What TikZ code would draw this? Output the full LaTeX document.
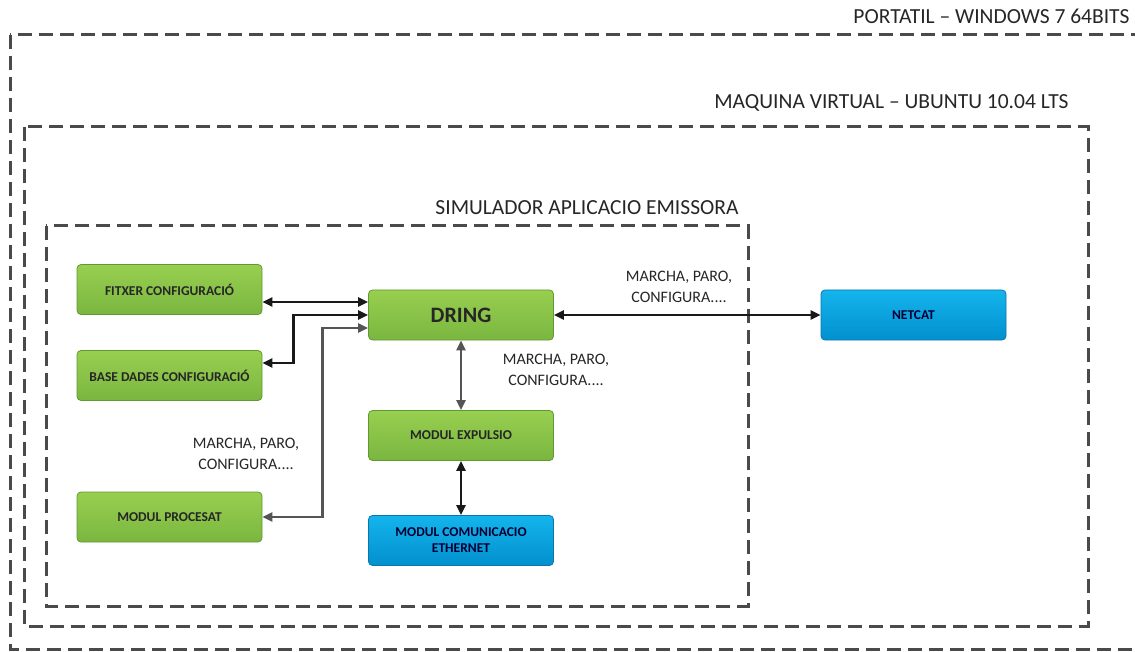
\documentclass[tikz,border=0pt]{standalone}
\usepackage{fontspec}
\setmainfont{Carlito}
\usepackage{xcolor}
\usetikzlibrary{arrows.meta,positioning}
\definecolor{GTop}{HTML}{98CF50}
\definecolor{GBot}{HTML}{7AB640}
\definecolor{GLine}{HTML}{5F9A30}
\definecolor{BTop}{HTML}{14B4EC}
\definecolor{BBot}{HTML}{0290CE}
\definecolor{BLine}{HTML}{0B76AE}
\definecolor{DLine}{HTML}{4A4A4A}
\definecolor{GArrow}{HTML}{555555}

\begin{document}
\begin{tikzpicture}[
  x=1pt,y=-1pt,
  every node/.style={font=\fontsize{16}{21}\selectfont,text=black!85},
  modbox/.style={draw=GLine,line width=0.8pt,rounded corners=4pt,top color=GTop,
    bottom color=GBot,minimum width=185pt,minimum height=50pt,align=center,
    font=\bfseries\fontsize{13.5}{16}\selectfont},
  netbox/.style={modbox,draw=BLine,top color=BTop,bottom color=BBot,text=black!80!blue},
  frame/.style={draw=DLine,line width=3pt,dash pattern=on 14pt off 7pt},
  title/.style={font=\fontsize{21.5}{24}\selectfont},
  blk/.style={{Triangle[length=10pt,width=9pt]}-{Triangle[length=10pt,width=9pt]},line width=2.8pt,color=black!90},
  gry/.style={blk,color=GArrow}
]
  \useasboundingbox (0,0) rectangle (1135,652);

  % containers
  \draw[frame] (10,35) rectangle (1150,649);
  \draw[frame] (24,127) rectangle (1088,626);
  \draw[frame] (46,226) rectangle (748,606);
  \node[title,anchor=east] (portatil) at (1133,16) {PORTATIL -- WINDOWS 7 64BITS};
  \node[title,anchor=east] (maquina) at (1072,103) {MAQUINA VIRTUAL -- UBUNTU 10.04 LTS};
  \node[title] (simulador) at (587,208) {SIMULADOR APLICACIO EMISSORA};

  % modules
  \node[modbox] (fitxer) at (169.5,289.5) {FITXER CONFIGURACIÓ};
  \node[modbox] (base) at (169.5,375.5) {BASE DADES CONFIGURACIÓ};
  \node[modbox] (procesat) at (169.5,517) {MODUL PROCESAT};
  \node[modbox,font=\bfseries\fontsize{22}{24}\selectfont] (dring) at (461,315) {DRING};
  \node[modbox] (expulsio) at (461,435.5) {MODUL EXPULSIO};
  \node[netbox] (comunic) at (461,540.5) {MODUL COMUNICACIO\\ETHERNET};
  \node[netbox] (netcat) at (913.5,315) {NETCAT};

  \node[align=center] (lblnet) at (679,287) {MARCHA, PARO,\\CONFIGURA....};
  \node[align=center] (lblexp) at (556,370) {MARCHA, PARO,\\CONFIGURA....};
  \node[align=center] (lblproc) at (246,454) {MARCHA, PARO,\\CONFIGURA....};

  % links
  \coordinate (fx) at ([yshift=-12.5pt]fitxer.east);
  \draw[blk] (fx) -- (fx -| dring.west);
  \draw[blk] (dring.west) -- ++(-75,0) |- ([yshift=12.5pt]base.east);
  \draw[gry] ([yshift=-13pt]dring.west) -- ++(-45.5,0) |- (procesat.east);
  \draw[gry] (dring.south) -- (expulsio.north);
  \draw[blk] (expulsio.south) -- (comunic.north);
  \draw[blk] (dring.east) -- (dring.east -| netcat.west);
\end{tikzpicture}
\end{document}
